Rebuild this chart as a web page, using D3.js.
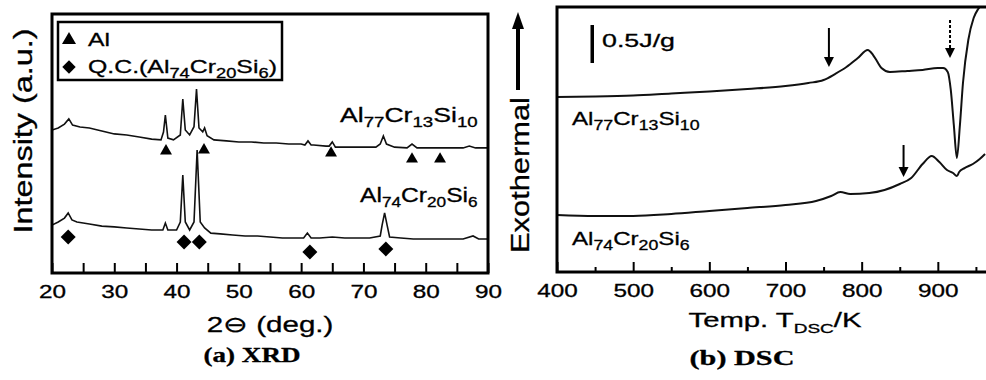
<!DOCTYPE html>
<html>
<head>
<meta charset="utf-8">
<script src="https://cdn.jsdelivr.net/npm/d3@7"></script>
<style>
  body { margin: 0; background: #fff; }
  svg { display: block; }
  text { font-family: "Liberation Sans", Arial, sans-serif; fill: #000; stroke: #000; stroke-width: 0.3px; }
</style>
</head>
<body>
<div id="app"></div>
<script>
// ---- XRD (2theta in deg, intensity in a.u.) ----
const topTheta = [20, 21, 22, 22.7, 23.3, 24.5, 26, 28, 30, 32, 34, 36, 37.5, 37.9, 38.2, 38.6, 39.5, 40.6, 41, 41.4,
  42.1, 42.8, 43.2, 43.6, 44.2, 44.5, 44.9, 46, 48, 50, 52, 54, 56, 58, 60, 60.6, 61.1, 61.6, 62, 64,
  64.5, 65, 65.5, 66, 68, 70, 72, 72.7, 73.2, 73.7, 75, 77, 77.8, 78.6, 80, 82, 84, 86, 87, 88, 90];
const topInt = [55.2, 56.0, 57.5, 59.5, 57.1, 56.4, 56.0, 54.8, 53.7, 53.3, 52.5, 51.7, 51.4, 54.4, 61.0, 52.1, 51.4, 53.3, 67.2, 55.2,
  53.3, 56.5, 71.0, 56.0, 54.5, 56.0, 53.0, 51.4, 51.0, 50.6, 50.6, 50.2, 50.2, 49.8, 49.8, 49.4, 51.0, 49.4, 49.4, 49.0,
  49.0, 50.6, 48.6, 48.6, 48.6, 48.6, 48.6, 49.8, 52.9, 49.8, 48.6, 48.3, 49.8, 48.3, 48.3, 48.3, 48.3, 48.3, 49.0, 48.3, 48.3];

const botTheta = [20, 21, 22, 22.6, 23.2, 24, 25, 26, 28, 30, 32, 34, 36, 37.8, 38.2, 38.6, 40, 40.6, 41, 41.4,
  42.1, 42.8, 43.3, 43.8, 44.5, 45.5, 47, 49, 51, 53, 55, 57, 59, 60.4, 61, 61.6, 63, 65, 67, 69,
  71, 72.7, 73, 73.4, 73.8, 74.2, 76, 78, 80, 82, 84, 86, 87.6, 88.5, 90];
const botInt = [18.5, 19.7, 21.2, 23.2, 20.5, 19.7, 19.3, 18.9, 18.1, 17.8, 17.4, 17.0, 16.6, 16.6, 19.3, 16.6, 16.6, 19.7, 37.8, 19.7,
  16.6, 19.7, 47.5, 19.7, 17.4, 15.4, 15.1, 14.7, 14.3, 14.3, 13.9, 13.5, 13.5, 13.5, 15.4, 13.5, 13.5, 13.9, 13.5, 13.5,
  13.5, 14.3, 18.5, 23.2, 18.5, 13.9, 13.5, 13.1, 13.1, 13.1, 13.1, 13.1, 14.3, 13.1, 13.1];

// peak markers
const alTheta = [38.3, 44.4, 64.8, 77.8, 82.3];
const alLevel = [47.1, 47.5, 46.3, 44.0, 44.0];
const qcTheta = [22.6, 41.2, 43.65, 61.4, 73.6];
const qcLevel = [13.9, 12.0, 12.0, 8.1, 9.3];

const xrdTicks = d3.range(20, 91, 5);

// ---- DSC (T in K, heat flow in J/g, offset) ----
const dscT1 = [400, 450, 500, 550, 600, 650, 700, 730, 750, 765, 780, 795, 808, 815, 820, 826, 837, 860, 880, 900,
  907, 913, 917, 921, 925, 929, 933, 940, 947, 953, 962];
const dscH1 = [2.303, 2.309, 2.322, 2.349, 2.375, 2.408, 2.447, 2.487, 2.526, 2.605, 2.697, 2.816, 2.921, 2.855, 2.776, 2.684, 2.632, 2.645, 2.658, 2.684,
  2.684, 2.632, 2.395, 1.934, 1.500, 1.934, 2.487, 3.053, 3.342, 3.461, 3.539];
const dscT2 = [400, 450, 500, 550, 600, 650, 700, 740, 760, 772, 785, 810, 830, 850, 865, 880, 892, 902, 912, 920,
  925, 928, 935, 946, 955, 962];
const dscH2 = [0.750, 0.737, 0.737, 0.763, 0.803, 0.842, 0.882, 0.934, 1.000, 1.053, 1.026, 1.039, 1.079, 1.158, 1.237, 1.421, 1.526, 1.447, 1.342, 1.303,
  1.263, 1.316, 1.368, 1.421, 1.487, 1.553];

// arrows: [T, from, to]
const solidArrows = [[757, 3.211, 2.697], [855, 1.671, 1.250]];
const dashedArrows = [[916, 3.316, 2.816]];
const scaleBar = [3.25, 2.75]; // 0.5 J/g

const dscTicks = d3.range(400, 1001, 50);

const alloy1 = ["Al", "_77", "Cr", "_13", "Si", "_10"];
const alloy2 = ["Al", "_74", "Cr", "_20", "Si", "_6"];

const svg = d3.select("#app").append("svg").attr("width", 986).attr("height", 380);

const xX = d3.scaleLinear().domain([20, 90]).range([52, 488]);
const yX = d3.scaleLinear().domain([0, 100]).range([273, 14]);
const xD = d3.scaleLinear().domain([400, 1000]).range([557, 1014]);
const yD = d3.scaleLinear().domain([0, 3.487]).range([272, 7]);

const defs = svg.append("defs");
defs.append("clipPath").attr("id", "clipX").append("rect")
  .attr("x", 52).attr("y", 14).attr("width", 436).attr("height", 259);
defs.append("clipPath").attr("id", "clipD").append("rect")
  .attr("x", 557).attr("y", 7).attr("width", 457).attr("height", 265);

// text with subscripts, stretched to a given width
function rich(parent, x, y, width, parts, o = {}) {
  const size = o.size || 19;
  const g = parent.append("g");
  const t = g.append("text")
    .attr("text-anchor", o.anchor || "start")
    .style("font-size", size + "px");
  if (o.serif) t.style("font-family", '"Liberation Serif", "Times New Roman", serif').style("font-weight", "bold");
  const subSize = o.sub || Math.round(size * 0.72);
  const shift = o.shift || 5;
  let low = false;
  parts.forEach(p => {
    const isSub = p.startsWith("_");
    const s = t.append("tspan").text(isSub ? p.slice(1) : p);
    if (isSub) s.style("font-size", subSize + "px");
    if (isSub !== low) {
      s.attr("dy", isSub ? shift : -shift);
      low = isSub;
    }
  });
  const w = t.node().getBBox().width;
  g.attr("transform", `translate(${x},${y}) rotate(${o.rotate || 0}) scale(${width / w},1)`);
  return g;
}

// ================= (a) XRD =================
const lineX = d3.line().x(d => xX(d[0])).y(d => yX(d[1]));
const gX = svg.append("g").attr("clip-path", "url(#clipX)");
gX.append("path").datum(d3.zip(topTheta, topInt))
  .attr("d", lineX).attr("fill", "none").attr("stroke", "#111").attr("stroke-width", 1.6);
gX.append("path").datum(d3.zip(botTheta, botInt))
  .attr("d", lineX).attr("fill", "none").attr("stroke", "#111").attr("stroke-width", 1.6);

const tri = d3.symbol().type(d3.symbolTriangle).size(62);
const dia = d3.symbol().type(d3.symbolSquare).size(112);
gX.selectAll(".al").data(d3.zip(alTheta, alLevel)).join("path")
  .attr("d", tri).attr("transform", d => `translate(${xX(d[0])},${yX(d[1])})`);
gX.selectAll(".qc").data(d3.zip(qcTheta, qcLevel)).join("path")
  .attr("d", dia).attr("transform", d => `translate(${xX(d[0])},${yX(d[1])}) rotate(45)`);

const axX = d3.axisBottom(xX).tickValues(xrdTicks).tickSize(-10).tickPadding(12)
  .tickFormat(d => d % 10 === 0 ? d : "");
const gxa = svg.append("g").attr("transform", "translate(0,273)").call(axX);
gxa.select(".domain").remove();
gxa.selectAll("line").attr("stroke", "#000").attr("stroke-width", 2);
gxa.selectAll("text").style("font-size", "18px").attr("transform", "scale(1.35,1)");

svg.append("rect").attr("x", 52).attr("y", 14).attr("width", 436).attr("height", 259)
  .attr("fill", "none").attr("stroke", "#000").attr("stroke-width", 3);

// legend
svg.append("rect").attr("x", 58).attr("y", 22).attr("width", 224).attr("height", 58)
  .attr("fill", "#fff").attr("stroke", "#000").attr("stroke-width", 2.5);
svg.append("path").attr("d", d3.symbol().type(d3.symbolTriangle).size(85))
  .attr("transform", "translate(69,40)");
svg.append("path").attr("d", d3.symbol().type(d3.symbolSquare).size(90))
  .attr("transform", "translate(69,67) rotate(45)");
rich(svg, 88, 46, 22, ["Al"], { size: 19 });
rich(svg, 88, 73, 189, ["Q.C.(Al", "_74", "Cr", "_20", "Si", "_6", ")"], { size: 19 });

rich(svg, 340, 122, 138, alloy1, { size: 20 });
rich(svg, 360, 202, 118, alloy2, { size: 20 });

rich(svg, 32, 131, 205, ["Intensity (a.u.)"], { size: 26, anchor: "middle", rotate: -90 });
rich(svg, 270, 332, 126, ["2\u2296 (deg.)"], { size: 22, anchor: "middle" });
rich(svg, 252, 362, 97, ["(a) XRD"], { size: 21, anchor: "middle", serif: true });

// ================= (b) DSC =================
const lineD = d3.line().x(d => xD(d[0])).y(d => yD(d[1])).curve(d3.curveMonotoneX);
const gD = svg.append("g").attr("clip-path", "url(#clipD)");
gD.append("path").datum(d3.zip(dscT1, dscH1))
  .attr("d", lineD).attr("fill", "none").attr("stroke", "#111").attr("stroke-width", 2);
gD.append("path").datum(d3.zip(dscT2, dscH2))
  .attr("d", lineD).attr("fill", "none").attr("stroke", "#111").attr("stroke-width", 2);

function arrow(g, d, dashed) {
  const x = xD(d[0]), y0 = yD(d[1]), y1 = yD(d[2]);
  g.append("line").attr("x1", x).attr("x2", x).attr("y1", y0).attr("y2", y1 - 8)
    .attr("stroke", "#000").attr("stroke-width", 2)
    .attr("stroke-dasharray", dashed ? "3,2" : null);
  g.append("path").attr("d", `M${x - 5},${y1 - 10}L${x + 5},${y1 - 10}L${x},${y1}Z`).attr("fill", "#000");
}
solidArrows.forEach(d => arrow(svg, d, false));
dashedArrows.forEach(d => arrow(svg, d, true));

svg.append("rect").attr("x", 590.5).attr("width", 3.5)
  .attr("y", yD(scaleBar[0])).attr("height", yD(scaleBar[1]) - yD(scaleBar[0])).attr("fill", "#000");
rich(svg, 602, 47, 73, ["0.5J/g"], { size: 19 });

const axD = d3.axisBottom(xD).tickValues(dscTicks).tickSize(-10).tickPadding(12)
  .tickFormat(d => d % 100 === 0 && d < 1000 ? d : "");
const gda = svg.append("g").attr("transform", "translate(0,272)").call(axD);
gda.select(".domain").remove();
gda.selectAll("line").attr("stroke", "#000").attr("stroke-width", 2)
  .attr("y2", d => d % 100 === 0 ? -10 : -5);
gda.selectAll("text").style("font-size", "18px").attr("transform", "scale(1.35,1)");

svg.append("rect").attr("x", 557).attr("y", 7).attr("width", 457).attr("height", 265)
  .attr("fill", "none").attr("stroke", "#000").attr("stroke-width", 3);

rich(svg, 572, 125, 128, alloy1, { size: 19 });
rich(svg, 572, 245, 118, alloy2, { size: 19 });

// Exothermal arrow + label
svg.append("rect").attr("x", 516).attr("y", 26).attr("width", 4).attr("height", 64).attr("fill", "#000");
svg.append("path").attr("d", "M512,29L524,29L518,12Z").attr("fill", "#000");
rich(svg, 529, 175, 156, ["Exothermal"], { size: 26, anchor: "middle", rotate: -90 });

rich(svg, 775, 327, 174, ["Temp. T", "_DSC", "/K"], { size: 20, anchor: "middle", sub: 13, shift: 6 });
rich(svg, 742, 365, 105, ["(b) DSC"], { size: 21, anchor: "middle", serif: true });
</script>
</body>
</html>
